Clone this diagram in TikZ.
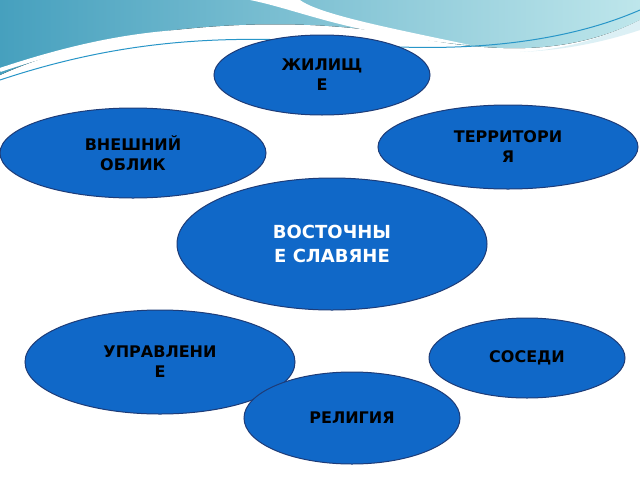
\documentclass[tikz,border=0pt]{standalone}
\usepackage{fontspec}
\setmainfont{DejaVu Sans}
\usetikzlibrary{shapes.geometric}
\definecolor{wavedark}{RGB}{70,160,190}
\definecolor{wavelight}{RGB}{190,230,235}
\definecolor{waveline}{RGB}{40,150,200}
\definecolor{wavepale}{RGB}{220,240,245}
\definecolor{ovalfill}{RGB}{16,104,200}
\definecolor{ovaledge}{RGB}{30,60,120}
\begin{document}
\begin{tikzpicture}[x=1pt,y=-1pt,
  oval/.style={ellipse,draw=ovaledge,line width=1pt,fill=ovalfill,
     inner sep=0pt,align=center,font=\bfseries\fontsize{16}{20}\selectfont,text=black},
  ]
\useasboundingbox (0,0) rectangle (640,480);
\fill[white] (0,0) rectangle (640,480);
% waves
\fill[left color=wavedark,right color=wavelight]
  (0,0) -- (640,0) -- (640,20) .. controls (560,60) and (480,50) .. (400,35)
  .. controls (300,15) and (120,20) .. (0,75) -- cycle;
\fill[white] (250,0) .. controls (300,10) and (350,35) .. (470,45) .. controls (400,30) and (320,15) .. (300,0) -- cycle;
\draw[white,line width=4pt] (0,70) .. controls (120,30) and (200,25) .. (300,35);
\draw[waveline,line width=1pt] (0,80) .. controls (120,40) and (220,35) .. (330,42) .. controls (450,55) and (560,45) .. (640,10);
\fill[wavepale] (640,20) .. controls (600,40) and (560,50) .. (520,52) .. controls (570,50) and (610,40) .. (640,30) -- cycle;

\node[oval,minimum width=216,minimum height=80] (zh) at (322,75) {ЖИЛИЩ\\Е};
\node[oval,minimum width=260,minimum height=84] (ter) at (508,147) {ТЕРРИТОРИ\\Я};
\node[oval,minimum width=266,minimum height=90] (vn) at (133,153) {ВНЕШНИЙ\\ОБЛИК};
\node[oval,minimum width=310,minimum height=132,text=white,font=\bfseries\fontsize{18}{24}\selectfont] (vs) at (332,244) {ВОСТОЧНЫ\\Е СЛАВЯНЕ};
\node[oval,minimum width=270,minimum height=104] (up) at (160,362) {УПРАВЛЕНИ\\Е};
\node[oval,minimum width=196,minimum height=80] (so) at (527,358) {СОСЕДИ};
\node[oval,minimum width=216,minimum height=92] (re) at (352,418) {РЕЛИГИЯ};
\end{tikzpicture}
\end{document}
